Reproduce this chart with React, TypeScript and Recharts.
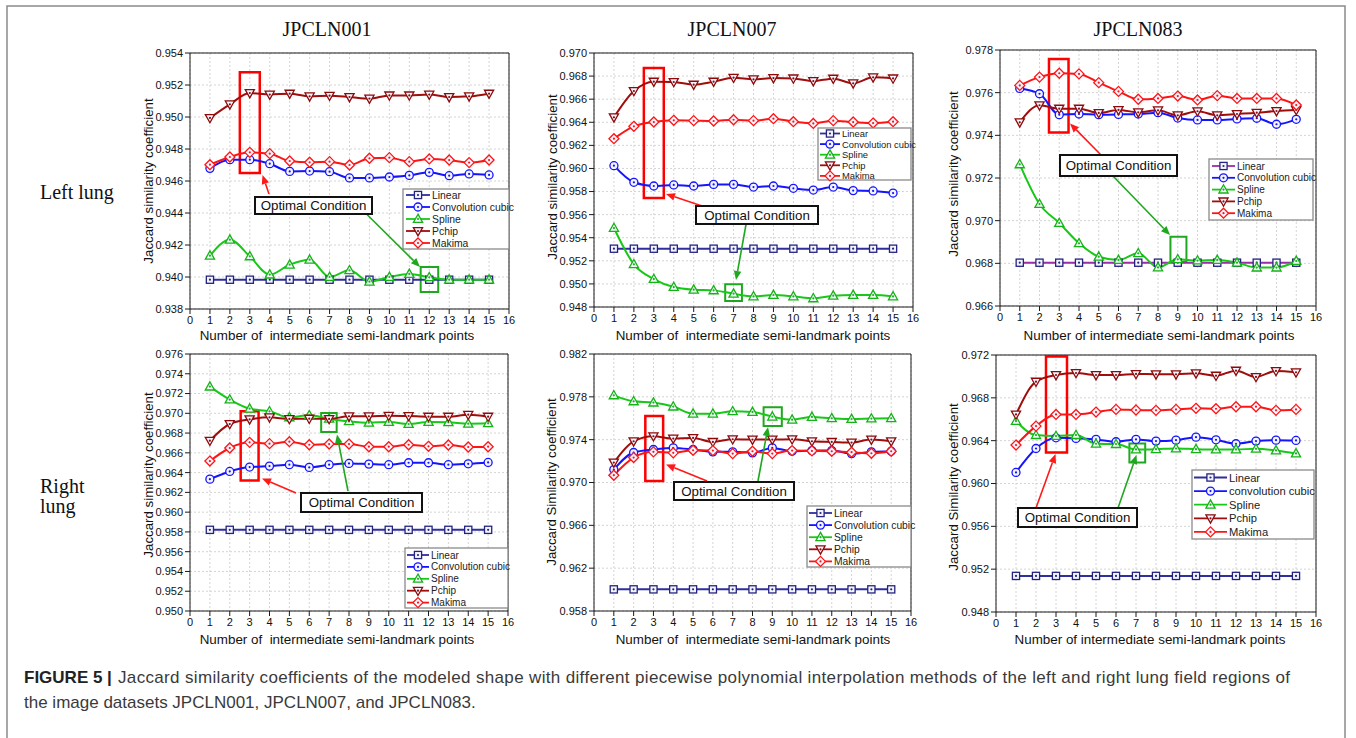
import React from 'react'
import { LineChart, Line, XAxis, YAxis, CartesianGrid, ReferenceArea } from 'recharts'

// x categories: number of intermediate semi-landmark points
const points = [1, 2, 3, 4, 5, 6, 7, 8, 9, 10, 11, 12, 13, 14, 15]
const xTicks = [0, 1, 2, 3, 4, 5, 6, 7, 8, 9, 10, 11, 12, 13, 14, 15, 16]

// JPCLN001 - left lung
const l001Linear = [0.93983, 0.93983, 0.93983, 0.93983, 0.93983, 0.93983, 0.93983, 0.93983, 0.93983, 0.93983, 0.93983, 0.93983, 0.93983, 0.93983, 0.93983]
const l001Conv = [0.94679, 0.94733, 0.94733, 0.94708, 0.9466, 0.94662, 0.94658, 0.94619, 0.94619, 0.94625, 0.94635, 0.94654, 0.94633, 0.94644, 0.94638]
const l001Spline = [0.94133, 0.94233, 0.94129, 0.94015, 0.94077, 0.94108, 0.94, 0.94042, 0.93971, 0.94, 0.94019, 0.93998, 0.93983, 0.93983, 0.93983]
const l001Pchip = [0.94994, 0.95079, 0.9515, 0.9514, 0.95146, 0.95129, 0.95133, 0.95125, 0.95115, 0.95135, 0.95135, 0.9514, 0.95125, 0.95129, 0.95146]
const l001Makima = [0.94702, 0.9475, 0.94779, 0.94771, 0.94725, 0.94717, 0.94721, 0.947, 0.94742, 0.94746, 0.94721, 0.94738, 0.94731, 0.94715, 0.94731]

// JPCLN007 - left lung
const l007Linear = [0.95305, 0.95305, 0.95305, 0.95305, 0.95305, 0.95305, 0.95305, 0.95305, 0.95305, 0.95305, 0.95305, 0.95305, 0.95305, 0.95305, 0.95305]
const l007Conv = [0.96024, 0.9588, 0.95848, 0.95857, 0.95848, 0.95862, 0.95862, 0.95839, 0.95848, 0.95828, 0.95813, 0.95839, 0.95808, 0.95805, 0.95787]
const l007Spline = [0.95484, 0.9517, 0.95042, 0.94973, 0.9495, 0.94944, 0.94915, 0.94892, 0.94904, 0.94892, 0.94875, 0.94898, 0.94904, 0.94904, 0.94892]
const l007Pchip = [0.96443, 0.96671, 0.96752, 0.96749, 0.96726, 0.96752, 0.96786, 0.96772, 0.96783, 0.9678, 0.96757, 0.96778, 0.96737, 0.96789, 0.9678]
const l007Makima = [0.96258, 0.96365, 0.96402, 0.96417, 0.96414, 0.96411, 0.96422, 0.96414, 0.96431, 0.96405, 0.9639, 0.96414, 0.96402, 0.96393, 0.96405]

// JPCLN083 - left lung
const l083Linear = [0.96803, 0.96803, 0.96803, 0.96803, 0.96803, 0.96803, 0.96803, 0.96803, 0.96803, 0.96803, 0.96803, 0.96803, 0.96803, 0.96803, 0.96803]
const l083Conv = [0.9762, 0.97595, 0.97497, 0.975, 0.97497, 0.97498, 0.975, 0.97506, 0.97481, 0.97472, 0.97472, 0.97477, 0.9748, 0.97452, 0.97475]
const l083Spline = [0.97264, 0.97078, 0.96989, 0.96894, 0.96831, 0.96816, 0.96847, 0.96781, 0.96819, 0.96813, 0.96816, 0.96803, 0.9678, 0.9678, 0.96811]
const l083Pchip = [0.97461, 0.97541, 0.97525, 0.97525, 0.97505, 0.97519, 0.97508, 0.97517, 0.97494, 0.97513, 0.97494, 0.975, 0.97506, 0.97514, 0.97519]
const l083Makima = [0.97634, 0.97673, 0.97691, 0.97688, 0.97647, 0.97606, 0.97569, 0.97573, 0.97584, 0.97566, 0.97586, 0.97573, 0.97573, 0.97573, 0.97542]

// JPCLN001 - right lung
const r001Linear = [0.95821, 0.95821, 0.95821, 0.95821, 0.95821, 0.95821, 0.95821, 0.95821, 0.95821, 0.95821, 0.95821, 0.95821, 0.95821, 0.95821, 0.95821]
const r001Conv = [0.96334, 0.96412, 0.96456, 0.96466, 0.9648, 0.96453, 0.9648, 0.96493, 0.96486, 0.9648, 0.965, 0.965, 0.9648, 0.96489, 0.96503]
const r001Spline = [0.9727, 0.97139, 0.97047, 0.9702, 0.96959, 0.9698, 0.96946, 0.96919, 0.96905, 0.96912, 0.96892, 0.96912, 0.96909, 0.96895, 0.96899]
const r001Pchip = [0.96723, 0.96892, 0.96939, 0.96959, 0.96943, 0.96946, 0.96943, 0.9697, 0.9697, 0.96976, 0.96973, 0.96966, 0.96966, 0.96986, 0.96966]
const r001Makima = [0.96517, 0.96649, 0.96706, 0.96693, 0.96713, 0.96682, 0.96689, 0.96689, 0.96662, 0.96662, 0.96682, 0.96666, 0.96679, 0.96659, 0.96662]

// JPCLN007 - right lung
const r007Linear = [0.96002, 0.96002, 0.96002, 0.96002, 0.96002, 0.96002, 0.96002, 0.96002, 0.96002, 0.96002, 0.96002, 0.96002, 0.96002, 0.96002, 0.96002]
const r007Conv = [0.97121, 0.9728, 0.97308, 0.97323, 0.97308, 0.97286, 0.97286, 0.97277, 0.97323, 0.97292, 0.97298, 0.97298, 0.9727, 0.97286, 0.97292]
const r007Spline = [0.97814, 0.97758, 0.97746, 0.97709, 0.97643, 0.97643, 0.97665, 0.97659, 0.97615, 0.97587, 0.97612, 0.976, 0.97593, 0.97597, 0.976]
const r007Pchip = [0.97186, 0.97385, 0.97432, 0.9741, 0.97416, 0.97379, 0.97404, 0.97401, 0.97401, 0.97404, 0.97385, 0.97379, 0.97373, 0.97401, 0.97385]
const r007Makima = [0.97068, 0.97233, 0.97286, 0.97277, 0.97301, 0.97298, 0.9727, 0.97292, 0.9727, 0.97298, 0.97295, 0.97292, 0.97283, 0.97273, 0.97292]

// JPCLN083 - right lung
const r083Linear = [0.95137, 0.95137, 0.95137, 0.95137, 0.95137, 0.95137, 0.95137, 0.95137, 0.95137, 0.95137, 0.95137, 0.95137, 0.95137, 0.95137, 0.95137]
const r083Conv = [0.96103, 0.96327, 0.96427, 0.96421, 0.96412, 0.9639, 0.96412, 0.96396, 0.96405, 0.96433, 0.96408, 0.96371, 0.96396, 0.96405, 0.96402]
const r083Spline = [0.96583, 0.96452, 0.96443, 0.96452, 0.96371, 0.96368, 0.96318, 0.96321, 0.96327, 0.96321, 0.96318, 0.96318, 0.96324, 0.96309, 0.96281]
const r083Pchip = [0.96645, 0.96951, 0.97013, 0.97032, 0.97013, 0.97013, 0.97023, 0.9702, 0.9702, 0.97029, 0.97007, 0.97054, 0.96995, 0.97051, 0.97038]
const r083Makima = [0.96359, 0.96536, 0.96645, 0.96645, 0.96667, 0.96692, 0.96686, 0.96683, 0.96692, 0.96702, 0.96698, 0.96717, 0.96717, 0.96683, 0.96692]

// y tick labels
const l001Ticks = [0.938, 0.94, 0.942, 0.944, 0.946, 0.948, 0.95, 0.952, 0.954]
const l007Ticks = [0.948, 0.95, 0.952, 0.954, 0.956, 0.958, 0.96, 0.962, 0.964, 0.966, 0.968, 0.97]
const l083Ticks = [0.966, 0.968, 0.97, 0.972, 0.974, 0.976, 0.978]
const r001Ticks = [0.95, 0.952, 0.954, 0.956, 0.958, 0.96, 0.962, 0.964, 0.966, 0.968, 0.97, 0.972, 0.974, 0.976]
const r007Ticks = [0.958, 0.962, 0.966, 0.97, 0.974, 0.978, 0.982]
const r083Ticks = [0.948, 0.952, 0.956, 0.96, 0.964, 0.968, 0.972]

const seriesNames = ['Linear', 'Convolution cubic', 'Spline', 'Pchip', 'Makima']
const seriesKeys = ['linear', 'conv', 'spline', 'pchip', 'makima']
const markerKinds = ['square', 'circle', 'up', 'down', 'diamond']
const lineColors = ['#2e2e9c', '#1414ff', '#18c818', '#a00d0d', '#ff1414']
const markColors = ['#24247f', '#1414ff', '#14b414', '#8c0a0a', '#ff1414']

const FONT = 'Liberation Sans, Arial, sans-serif'
const SERIF = 'Liberation Serif, Times New Roman, serif'

const panels = [
  {
    l: 190, t: 53, r: 509, b: 309, ticks: l001Ticks,
    values: [l001Linear, l001Conv, l001Spline, l001Pchip, l001Makima],
    yTitle: 'Jaccard similarity coefficient', yTitlePos: [148, 181],
    xTitle: 'Number of  intermediate semi-landmark points', xTitlePos: [337, 335],
    red: [2.5, 3.5, 0.9465, 0.9528], green: [11.57, 12.45, 0.93906, 0.94063],
    box: [255, 197, 372, 214], redArrow: [269, 194, 262.5, 175], greenArrow: [367, 214.5, 420, 267],
    legend: { x1: 403, y1: 189, x2: 509, y2: 249, row0: 195, gap: 12, sx: 406, sw: 24, fs: 10.4 },
  },
  {
    l: 594, t: 53, r: 913, b: 307, ticks: l007Ticks,
    values: [l007Linear, l007Conv, l007Spline, l007Pchip, l007Makima],
    yTitle: 'Jaccard similarity coefficient', yTitlePos: [552, 177],
    xTitle: 'Number of  intermediate semi-landmark points', xTitlePos: [753, 335],
    red: [2.5, 3.5, 0.95745, 0.9687], green: [6.58, 7.42, 0.94852, 0.94996],
    box: [696, 206, 818, 224], redArrow: [702, 206, 666, 194], greenArrow: [746, 224.5, 736, 280],
    legend: { x1: 818, y1: 128, x2: 911, y2: 180, row0: 133.5, gap: 10.6, sx: 820, sw: 20, fs: 9.4 },
  },
  {
    l: 1000, t: 50, r: 1316, b: 306, ticks: l083Ticks, linearLine: '#9a2fa8',
    values: [l083Linear, l083Conv, l083Spline, l083Pchip, l083Makima],
    yTitle: 'Jaccard similarity coefficient', yTitlePos: [953, 174],
    xTitle: 'Number of intermediate semi-landmark points', xTitlePos: [1159, 335],
    red: [2.48, 3.47, 0.97413, 0.97758], green: [8.63, 9.44, 0.96808, 0.96925],
    box: [1060, 155, 1177, 176], redArrow: [1101, 155, 1070, 123.5], greenArrow: [1113, 176, 1170, 235],
    legend: { x1: 1209, y1: 159, x2: 1313, y2: 220, row0: 166, gap: 11.8, sx: 1212, sw: 23, fs: 10 },
  },
  {
    l: 190, t: 354, r: 508, b: 611, ticks: r001Ticks,
    values: [r001Linear, r001Conv, r001Spline, r001Pchip, r001Makima],
    yTitle: 'Jaccard similarity coefficient', yTitlePos: [148, 475],
    xTitle: 'Number of  intermediate semi-landmark points', xTitlePos: [337, 639],
    red: [2.55, 3.45, 0.9632, 0.9702], green: [6.6, 7.38, 0.9681, 0.97003],
    box: [301, 493, 422, 512], redArrow: [296, 493, 262, 478.5], greenArrow: [348, 491, 337, 434.5],
    legend: { x1: 405, y1: 548, x2: 508, y2: 608, row0: 555, gap: 11.9, sx: 407, sw: 22, fs: 10 },
  },
  {
    l: 594, t: 354, r: 911, b: 611, ticks: r007Ticks,
    values: [r007Linear, r007Conv, r007Spline, r007Pchip, r007Makima],
    yTitle: 'Jaccard Similarity coefficient', yTitlePos: [551, 482],
    xTitle: 'Number of  intermediate semi-landmark points', xTitlePos: [753, 639],
    red: [2.59, 3.49, 0.97015, 0.97622], green: [8.56, 9.48, 0.97528, 0.97702],
    box: [674, 482, 794, 500], redArrow: [707, 481, 666, 464.5], greenArrow: [758, 481, 768, 427],
    legend: { x1: 807, y1: 506, x2: 911, y2: 567, row0: 513, gap: 12.1, sx: 809, sw: 23, fs: 10.3 },
  },
  {
    l: 996, t: 355, r: 1316, b: 612, ticks: r083Ticks,
    values: [r083Linear, r083Conv, r083Spline, r083Pchip, r083Makima],
    names: ['Linear', 'convolution cubic', 'Spline', 'Pchip', 'Makima'],
    yTitle: 'Jaccard Similarity coefficient', yTitlePos: [953, 487],
    xTitle: 'Number of intermediate semi-landmark points', xTitlePos: [1150, 639],
    red: [2.5, 3.55, 0.9629, 0.97185], green: [6.67, 7.46, 0.96197, 0.96374],
    box: [1018, 508, 1137, 527], redArrow: [1036, 508, 1055.5, 454], greenArrow: [1118, 508, 1136.5, 455],
    legend: { x1: 1192, y1: 470, x2: 1314, y2: 539, row0: 477.5, gap: 13.6, sx: 1194, sw: 33, fs: 11.2 },
  },
]

function Marker({ kind, cx, cy, color }: { kind: string; cx: number; cy: number; color: string }) {
  const sw = 1.3
  const fill = '#f4f4ff'
  let shape: React.ReactNode = null
  if (kind === 'square') shape = <rect x={cx - 3.6} y={cy - 3.6} width={7.2} height={7.2} fill={fill} stroke={color} strokeWidth={sw} />
  else if (kind === 'circle') shape = <circle cx={cx} cy={cy} r={4} fill={fill} stroke={color} strokeWidth={sw} />
  else if (kind === 'up') shape = <polygon points={`${cx},${cy - 4.8} ${cx - 4.6},${cy + 3.4} ${cx + 4.6},${cy + 3.4}`} fill={fill} stroke={color} strokeWidth={sw} />
  else if (kind === 'down') shape = <polygon points={`${cx - 4.6},${cy - 3.4} ${cx + 4.6},${cy - 3.4} ${cx},${cy + 4.8}`} fill={fill} stroke={color} strokeWidth={sw} />
  else shape = <polygon points={`${cx},${cy - 5} ${cx + 5},${cy} ${cx},${cy + 5} ${cx - 5},${cy}`} fill={fill} stroke={color} strokeWidth={sw} />
  return (
    <g>
      {shape}
      <circle cx={cx} cy={cy} r={1.1} fill={color} />
    </g>
  )
}

function Arrow({ a, color }: { a: number[]; color: string }) {
  const [x1, y1, x2, y2] = a
  const ang = Math.atan2(y2 - y1, x2 - x1)
  const L = 9
  const W = 3.8
  const bx = x2 - L * Math.cos(ang)
  const by = y2 - L * Math.sin(ang)
  const p1 = `${bx + W * Math.sin(ang)},${by - W * Math.cos(ang)}`
  const p2 = `${bx - W * Math.sin(ang)},${by + W * Math.cos(ang)}`
  return (
    <g>
      <line x1={x1} y1={y1} x2={bx} y2={by} stroke={color} strokeWidth={1.6} />
      <polygon points={`${x2},${y2} ${p1} ${p2}`} fill={color} />
    </g>
  )
}

function Panel({ cfg }: { cfg: any }) {
  const w = cfg.r - cfg.l + 70
  const h = cfg.b - cfg.t + 40
  const yDomain = [cfg.ticks[0], cfg.ticks[cfg.ticks.length - 1]]
  const data = points.map((x, i) => {
    const row: any = { x }
    seriesKeys.forEach((k, s) => { row[k] = cfg.values[s][i] })
    return row
  })
  const axisStroke = '#1a1a1a'
  const tickStyle = { fontSize: 11, fill: '#111', fontFamily: FONT }
  return (
    <div style={{ position: 'absolute', left: cfg.l - 60, top: cfg.t - 10 }}>
      <LineChart width={w} height={h} data={data} margin={{ top: 10, right: 10, bottom: 0, left: 0 }}>
        <CartesianGrid stroke="#d4d4d4" strokeDasharray="2 2" />
        <XAxis dataKey="x" type="number" domain={[0, 16]} ticks={xTicks} interval={0} height={30}
          tick={tickStyle} tickSize={5} stroke={axisStroke} tickLine={{ stroke: axisStroke }} />
        <XAxis xAxisId="top" orientation="top" type="number" domain={[0, 16]} ticks={xTicks} interval={0}
          tick={false} mirror tickSize={5} stroke={axisStroke} />
        <YAxis type="number" domain={yDomain} ticks={cfg.ticks} interval={0} width={60} tick={tickStyle}
          tickFormatter={(v: number) => v.toFixed(3)} tickSize={5} stroke={axisStroke} />
        <YAxis yAxisId="right" orientation="right" type="number" domain={yDomain} ticks={cfg.ticks} interval={0}
          tick={false} mirror tickSize={5} stroke={axisStroke} />
        {seriesKeys.map((k, s) => (
          <Line key={k} type="monotone" dataKey={k} isAnimationActive={false}
            stroke={s === 0 && cfg.linearLine ? cfg.linearLine : lineColors[s]} strokeWidth={2}
            dot={(p: any) => <Marker key={`${k}-${p.index}`} kind={markerKinds[s]} cx={p.cx} cy={p.cy} color={markColors[s]} />} />
        ))}
        <ReferenceArea x1={cfg.red[0]} x2={cfg.red[1]} y1={cfg.red[2]} y2={cfg.red[3]}
          fill="none" stroke="#ff0000" strokeWidth={2.5} strokeOpacity={1} />
        <ReferenceArea x1={cfg.green[0]} x2={cfg.green[1]} y1={cfg.green[2]} y2={cfg.green[3]}
          fill="none" stroke="#1fa81f" strokeWidth={2} strokeOpacity={1} />
      </LineChart>
    </div>
  )
}

function LegendBox({ cfg }: { cfg: any }) {
  const lg = cfg.legend
  const names = cfg.names || seriesNames
  return (
    <g>
      <rect x={lg.x1} y={lg.y1} width={lg.x2 - lg.x1} height={lg.y2 - lg.y1} fill="#fff" stroke="#8a8a8a" strokeWidth={1.3} />
      {names.map((n: string, s: number) => {
        const y = lg.row0 + s * lg.gap
        const mx = lg.sx + lg.sw / 2
        return (
          <g key={n}>
            <line x1={lg.sx} y1={y} x2={lg.sx + lg.sw} y2={y} stroke={s === 0 && cfg.linearLine ? cfg.linearLine : lineColors[s]} strokeWidth={1.8} />
            <Marker kind={markerKinds[s]} cx={mx} cy={y} color={markColors[s]} />
            <text x={lg.sx + lg.sw + 2} y={y} dominantBaseline="central" fontSize={lg.fs} fontFamily={FONT} fill="#222">{n}</text>
          </g>
        )
      })}
    </g>
  )
}

export default function App() {
  return (
    <div style={{ position: 'absolute', left: 0, top: 0, width: 1356, height: 738, background: '#fff', overflow: 'hidden' }}>
      {panels.map((p, i) => <Panel key={i} cfg={p} />)}
      <svg width={1356} height={738} style={{ position: 'absolute', left: 0, top: 0, pointerEvents: 'none' }}>
        <rect x={7} y={6} width={1338} height={760} fill="none" stroke="#8a8a8a" strokeWidth={1.5} />
        <text x={327} y={36} textAnchor="middle" fontSize={20} fontFamily={SERIF} fill="#111">JPCLN001</text>
        <text x={732} y={36} textAnchor="middle" fontSize={20} fontFamily={SERIF} fill="#111">JPCLN007</text>
        <text x={1138} y={36} textAnchor="middle" fontSize={20} fontFamily={SERIF} fill="#111">JPCLN083</text>
        <text x={40} y={199} fontSize={20} fontFamily={SERIF} fill="#111">Left lung</text>
        <text x={40} y={493} fontSize={20} fontFamily={SERIF} fill="#111">Right</text>
        <text x={40} y={513} fontSize={20} fontFamily={SERIF} fill="#111">lung</text>
        {panels.map((p, i) => (
          <g key={i}>
            <text x={p.xTitlePos[0]} y={p.xTitlePos[1]} textAnchor="middle" dominantBaseline="central" fontSize={13.4}
              fontFamily={FONT} fill="#111" style={{ whiteSpace: 'pre' }}>{p.xTitle}</text>
            <text x={p.yTitlePos[0]} y={p.yTitlePos[1]} textAnchor="middle" dominantBaseline="central" fontSize={13.3}
              fontFamily={FONT} fill="#111" transform={`rotate(-90 ${p.yTitlePos[0]} ${p.yTitlePos[1]})`}>{p.yTitle}</text>
            <LegendBox cfg={p} />
            <Arrow a={p.redArrow} color="#ff1a1a" />
            <Arrow a={p.greenArrow} color="#1fa81f" />
            <rect x={p.box[0]} y={p.box[1]} width={p.box[2] - p.box[0]} height={p.box[3] - p.box[1]} fill="#fff" stroke="#111" strokeWidth={2} />
            <text x={(p.box[0] + p.box[2]) / 2} y={(p.box[1] + p.box[3]) / 2} textAnchor="middle" dominantBaseline="central"
              fontSize={13.3} fontFamily={FONT} fill="#111">Optimal Condition</text>
          </g>
        ))}
        <text x={24} y={683} fontSize={17} fontFamily={FONT} fontWeight="bold" fill="#222">FIGURE 5 |</text>
        <text x={118} y={683} fontSize={17} fontFamily={FONT} fill="#3a3a3a" textLength={1172} lengthAdjust="spacing">
          Jaccard similarity coefficients of the modeled shape with different piecewise polynomial interpolation methods of the left and right lung field regions of
        </text>
        <text x={24} y={708} fontSize={17} fontFamily={FONT} fill="#3a3a3a">the image datasets JPCLN001, JPCLN007, and JPCLN083.</text>
      </svg>
    </div>
  )
}
